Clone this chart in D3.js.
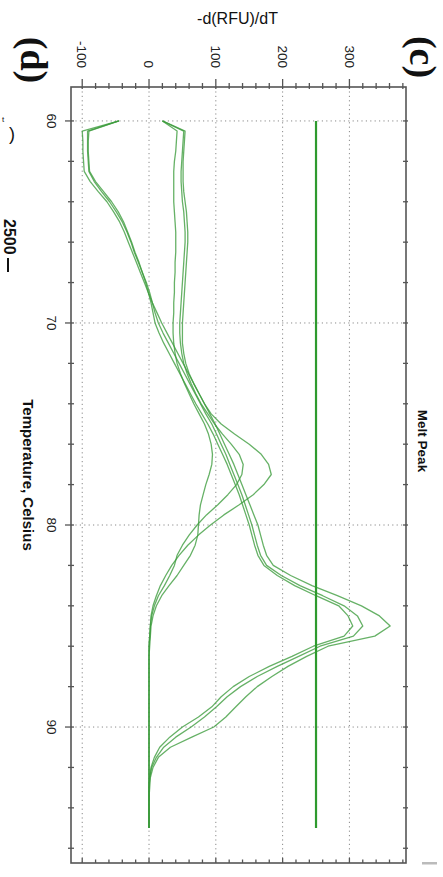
<!DOCTYPE html>
<html>
<head>
<meta charset="utf-8">
<script src="https://cdn.jsdelivr.net/npm/d3@7/dist/d3.min.js"></script>
<style>
  html, body { margin: 0; padding: 0; background: #fff; }
  svg { display: block; }
</style>
</head>
<body>
<svg id="chart" width="443" height="877"></svg>
<script>
// Melt-peak derivative curves, drawn with temperature running down the page.

// Sample temperatures (°C), 0.5 °C steps
const temps = [
  60, 60.5, 61, 61.5, 62, 62.5, 63, 63.5, 64, 64.5,
  65, 65.5, 66, 66.5, 67, 67.5, 68, 68.5, 69, 69.5,
  70, 70.5, 71, 71.5, 72, 72.5, 73, 73.5, 74, 74.5,
  75, 75.5, 76, 76.5, 77, 77.5, 78, 78.5, 79, 79.5,
  80, 80.5, 81, 81.5, 82, 82.5, 83, 83.5, 84, 84.5,
  85, 85.5, 86, 86.5, 87, 87.5, 88, 88.5, 89, 89.5,
  90, 90.5, 91, 91.5, 92, 92.5, 93, 93.5, 94, 94.5,
  95
];

// -d(RFU)/dT for each well
const wellA1 = [
  -45, -100, -99, -99, -98, -97, -88, -76, -63, -53,
  -44, -37, -31, -25, -19, -13, -7, -1, 5, 12,
  19, 27, 35, 43, 51, 59, 67, 75, 83, 91,
  99, 106, 113, 120, 127, 133, 139, 145, 151, 157,
  163, 167, 171, 176, 186, 212, 244, 282, 318, 345,
  361, 338, 268, 236, 208, 184, 162, 145, 130, 115,
  97, 64, 32, 14, 6, 2, 1, 0, 0, 0,
  0
];
const wellA2 = [
  -45, -92, -92, -92, -91, -90, -82, -71, -59, -49,
  -40, -33, -27, -22, -16, -10, -4, 1, 5, 9,
  14, 21, 29, 37, 45, 53, 61, 69, 77, 85,
  94, 101, 108, 115, 121, 127, 133, 139, 144, 149,
  154, 158, 162, 167, 176, 198, 226, 260, 292, 312,
  320, 306, 256, 224, 192, 162, 137, 117, 101, 83,
  63, 40, 22, 11, 4, 1, 0, 0, 0, 0,
  0
];
const wellA3 = [
  -45, -90, -91, -91, -90, -89, -80, -68, -56, -46,
  -38, -32, -26, -21, -15, -10, -5, -1, 3, 6,
  9, 15, 22, 30, 38, 46, 54, 62, 70, 79,
  88, 96, 103, 110, 117, 123, 129, 135, 140, 145,
  150, 154, 158, 163, 172, 192, 218, 250, 284, 298,
  305, 292, 246, 214, 180, 150, 126, 108, 94, 74,
  50, 31, 16, 8, 3, 1, 0, 0, 0, 0,
  0
];
const wellB1 = [
  20, 54, 53, 52, 51, 51, 51, 52, 54, 56,
  57, 58, 58, 57, 56, 55, 54, 53, 52, 51,
  50, 50, 50, 52, 55, 60, 67, 75, 83, 93,
  108, 128, 150, 168, 179, 183, 172, 156, 135, 112,
  92, 74, 58, 45, 34, 25, 17, 11, 6, 3,
  2, 1, 0, 0, 0, 0, 0, 0, 0, 0,
  0, 0, 0, 0, 0, 0, 0, 0, 0, 0,
  0
];
const wellB2 = [
  20, 52, 51, 50, 49, 48, 48, 49, 50, 52,
  53, 54, 54, 53, 52, 51, 50, 49, 48, 47,
  46, 46, 47, 49, 52, 57, 63, 70, 78, 88,
  98, 110, 123, 135, 141, 139, 131, 118, 103, 86,
  72, 60, 50, 42, 38, 31, 23, 14, 8, 4,
  2, 1, 0, 0, 0, 0, 0, 0, 0, 0,
  0, 0, 0, 0, 0, 0, 0, 0, 0, 0,
  0
];
const wellB3 = [
  20, 42, 41, 40, 38, 37, 37, 37, 37, 38,
  39, 40, 40, 40, 39, 39, 38, 38, 37, 37,
  36, 36, 37, 39, 42, 47, 53, 60, 67, 75,
  83, 89, 93, 95, 94, 90, 85, 81, 77, 75,
  74, 73, 69, 62, 52, 42, 30, 19, 11, 6,
  3, 2, 1, 0, 0, 0, 0, 0, 0, 0,
  0, 0, 0, 0, 0, 0, 0, 0, 0, 0,
  0
];

const wells = [wellA1, wellA2, wellA3, wellB1, wellB2, wellB3];

// Peak-call threshold
const threshold = 250;

// Axis ticks and labels
const valueTicks = [-100, 0, 100, 200, 300];
const valueMinorStep = 20;
const tempTicks = [60, 70, 80, 90];
const tempMinorStep = 2;

const titleText = "Melt Peak";
const valueLabel = "-d(RFU)/dT";
const tempLabel = "Temperature, Celsius";

const svg = d3.select("#chart");

const frame = { left: 71, right: 406, top: 87, bottom: 863 };

const xV = d3.scaleLinear().domain([-116.8, 384.7]).range([frame.left, frame.right]);
const yT = d3.scaleLinear().domain([58.32, 96.73]).range([frame.top, frame.bottom]);

const gridColor = "#8a8a8a";
const axisColor = "#555";
const lineColor = "#3b9b3b";

// dotted grid
const grid = svg.append("g");
grid.selectAll("line.v").data(valueTicks).join("line")
  .attr("x1", d => xV(d)).attr("x2", d => xV(d))
  .attr("y1", frame.top).attr("y2", frame.bottom)
  .attr("stroke", gridColor).attr("stroke-width", 1)
  .attr("stroke-dasharray", "1.2,3.2");
grid.selectAll("line.h").data(tempTicks).join("line")
  .attr("y1", d => yT(d)).attr("y2", d => yT(d))
  .attr("x1", frame.left).attr("x2", frame.right)
  .attr("stroke", gridColor).attr("stroke-width", 1)
  .attr("stroke-dasharray", "1.2,3.2");

// tick marks
const vMinor = d3.range(-100, xV.domain()[1], valueMinorStep);
const tMinor = d3.range(60, yT.domain()[1], tempMinorStep);
const isMajorV = v => valueTicks.includes(Math.round(v));
const isMajorT = t => tempTicks.includes(Math.round(t));

const ticks = svg.append("g").attr("stroke", axisColor).attr("stroke-width", 1.3);
// top
ticks.selectAll("line.top").data(vMinor).join("line")
  .attr("x1", d => xV(d)).attr("x2", d => xV(d))
  .attr("y1", d => frame.top - (isMajorV(d) ? 8 : 4)).attr("y2", frame.top + 2);
// bottom
ticks.selectAll("line.bot").data(vMinor).join("line")
  .attr("x1", d => xV(d)).attr("x2", d => xV(d))
  .attr("y1", d => frame.bottom - (isMajorV(d) ? 5 : 3.5)).attr("y2", frame.bottom);
// left
ticks.selectAll("line.left").data(tMinor).join("line")
  .attr("y1", d => yT(d)).attr("y2", d => yT(d))
  .attr("x1", d => frame.left - (isMajorT(d) ? 6 : 3)).attr("x2", frame.left + 3);
// right
ticks.selectAll("line.right").data(tMinor).join("line")
  .attr("y1", d => yT(d)).attr("y2", d => yT(d))
  .attr("x1", frame.right - 3).attr("x2", frame.right + 2);

// frame
svg.append("rect")
  .attr("x", frame.left).attr("y", frame.top)
  .attr("width", frame.right - frame.left).attr("height", frame.bottom - frame.top)
  .attr("fill", "none").attr("stroke", axisColor).attr("stroke-width", 1.6);

// curves
const line = d3.line()
  .x(d => xV(d[1]))
  .y(d => yT(d[0]))
  .curve(d3.curveLinear);

svg.append("g").selectAll("path").data(wells).join("path")
  .attr("d", w => line(temps.map((t, i) => [t, w[i]])))
  .attr("fill", "none")
  .attr("stroke", lineColor)
  .attr("stroke-width", 1.3)
  .attr("stroke-opacity", 0.78)
  .attr("stroke-linejoin", "round");

// threshold
svg.append("line")
  .attr("x1", xV(threshold)).attr("x2", xV(threshold))
  .attr("y1", yT(temps[0])).attr("y2", yT(temps[temps.length - 1]))
  .attr("stroke", "#2e9a2e").attr("stroke-width", 2.2);

// rotated text helper: glyph tops face right, reading downwards
function rotText(x, y, txt, opts) {
  const t = svg.append("text")
    .attr("transform", `translate(${x},${y}) rotate(90)`)
    .attr("font-family", opts.family || "Liberation Sans, Arial, sans-serif")
    .attr("font-size", opts.size)
    .attr("font-weight", opts.weight || "normal")
    .attr("fill", opts.fill || "#111")
    .attr("text-anchor", opts.anchor || "middle")
    .text(txt);
  if (opts.dy) t.attr("dy", opts.dy);
  return t;
}

// value tick labels (top)
valueTicks.forEach(v => {
  rotText(xV(v), 68, String(v), { size: 13.5, anchor: "end", dy: "0.35em", fill: "#222" });
});

// temperature tick labels (left)
tempTicks.forEach(t => {
  rotText(47, yT(t), String(t), { size: 13.5, anchor: "middle", fill: "#222" });
});

// axis titles
svg.append("text")
  .attr("x", 237.5).attr("y", 24)
  .attr("text-anchor", "middle")
  .attr("font-family", "Liberation Sans, Arial, sans-serif")
  .attr("font-size", 16)
  .attr("fill", "#111")
  .text(valueLabel);

rotText(22.5, 475, tempLabel, { size: 15, weight: "bold" });
rotText(418, 441, titleText, { size: 13.5, weight: "bold" });

// panel letters
rotText(410, 57, "(c)", { size: 38, weight: "bold", family: "Liberation Serif, Times New Roman, serif" });
rotText(21, 60, "(d)", { size: 38, weight: "bold", family: "Liberation Serif, Times New Roman, serif" });

// edge of the neighbouring panel
rotText(4, 219, "2500", { size: 16, anchor: "start", weight: "bold" });
svg.append("line").attr("x1", 8).attr("x2", 8).attr("y1", 258).attr("y2", 272)
  .attr("stroke", "#111").attr("stroke-width", 2);
svg.append("text").attr("x", 9).attr("y", 140)
  .attr("font-family", "Liberation Sans, Arial, sans-serif").attr("font-size", 18)
  .attr("fill", "#111").text(")");
svg.append("text").attr("x", 2).attr("y", 122)
  .attr("font-family", "Liberation Sans, Arial, sans-serif").attr("font-size", 8)
  .attr("fill", "#111").text("t");

// small mark at the lower right corner
svg.append("rect").attr("x", 422).attr("y", 862).attr("width", 15).attr("height", 2.5)
  .attr("fill", "#bbb");
</script>
</body>
</html>
